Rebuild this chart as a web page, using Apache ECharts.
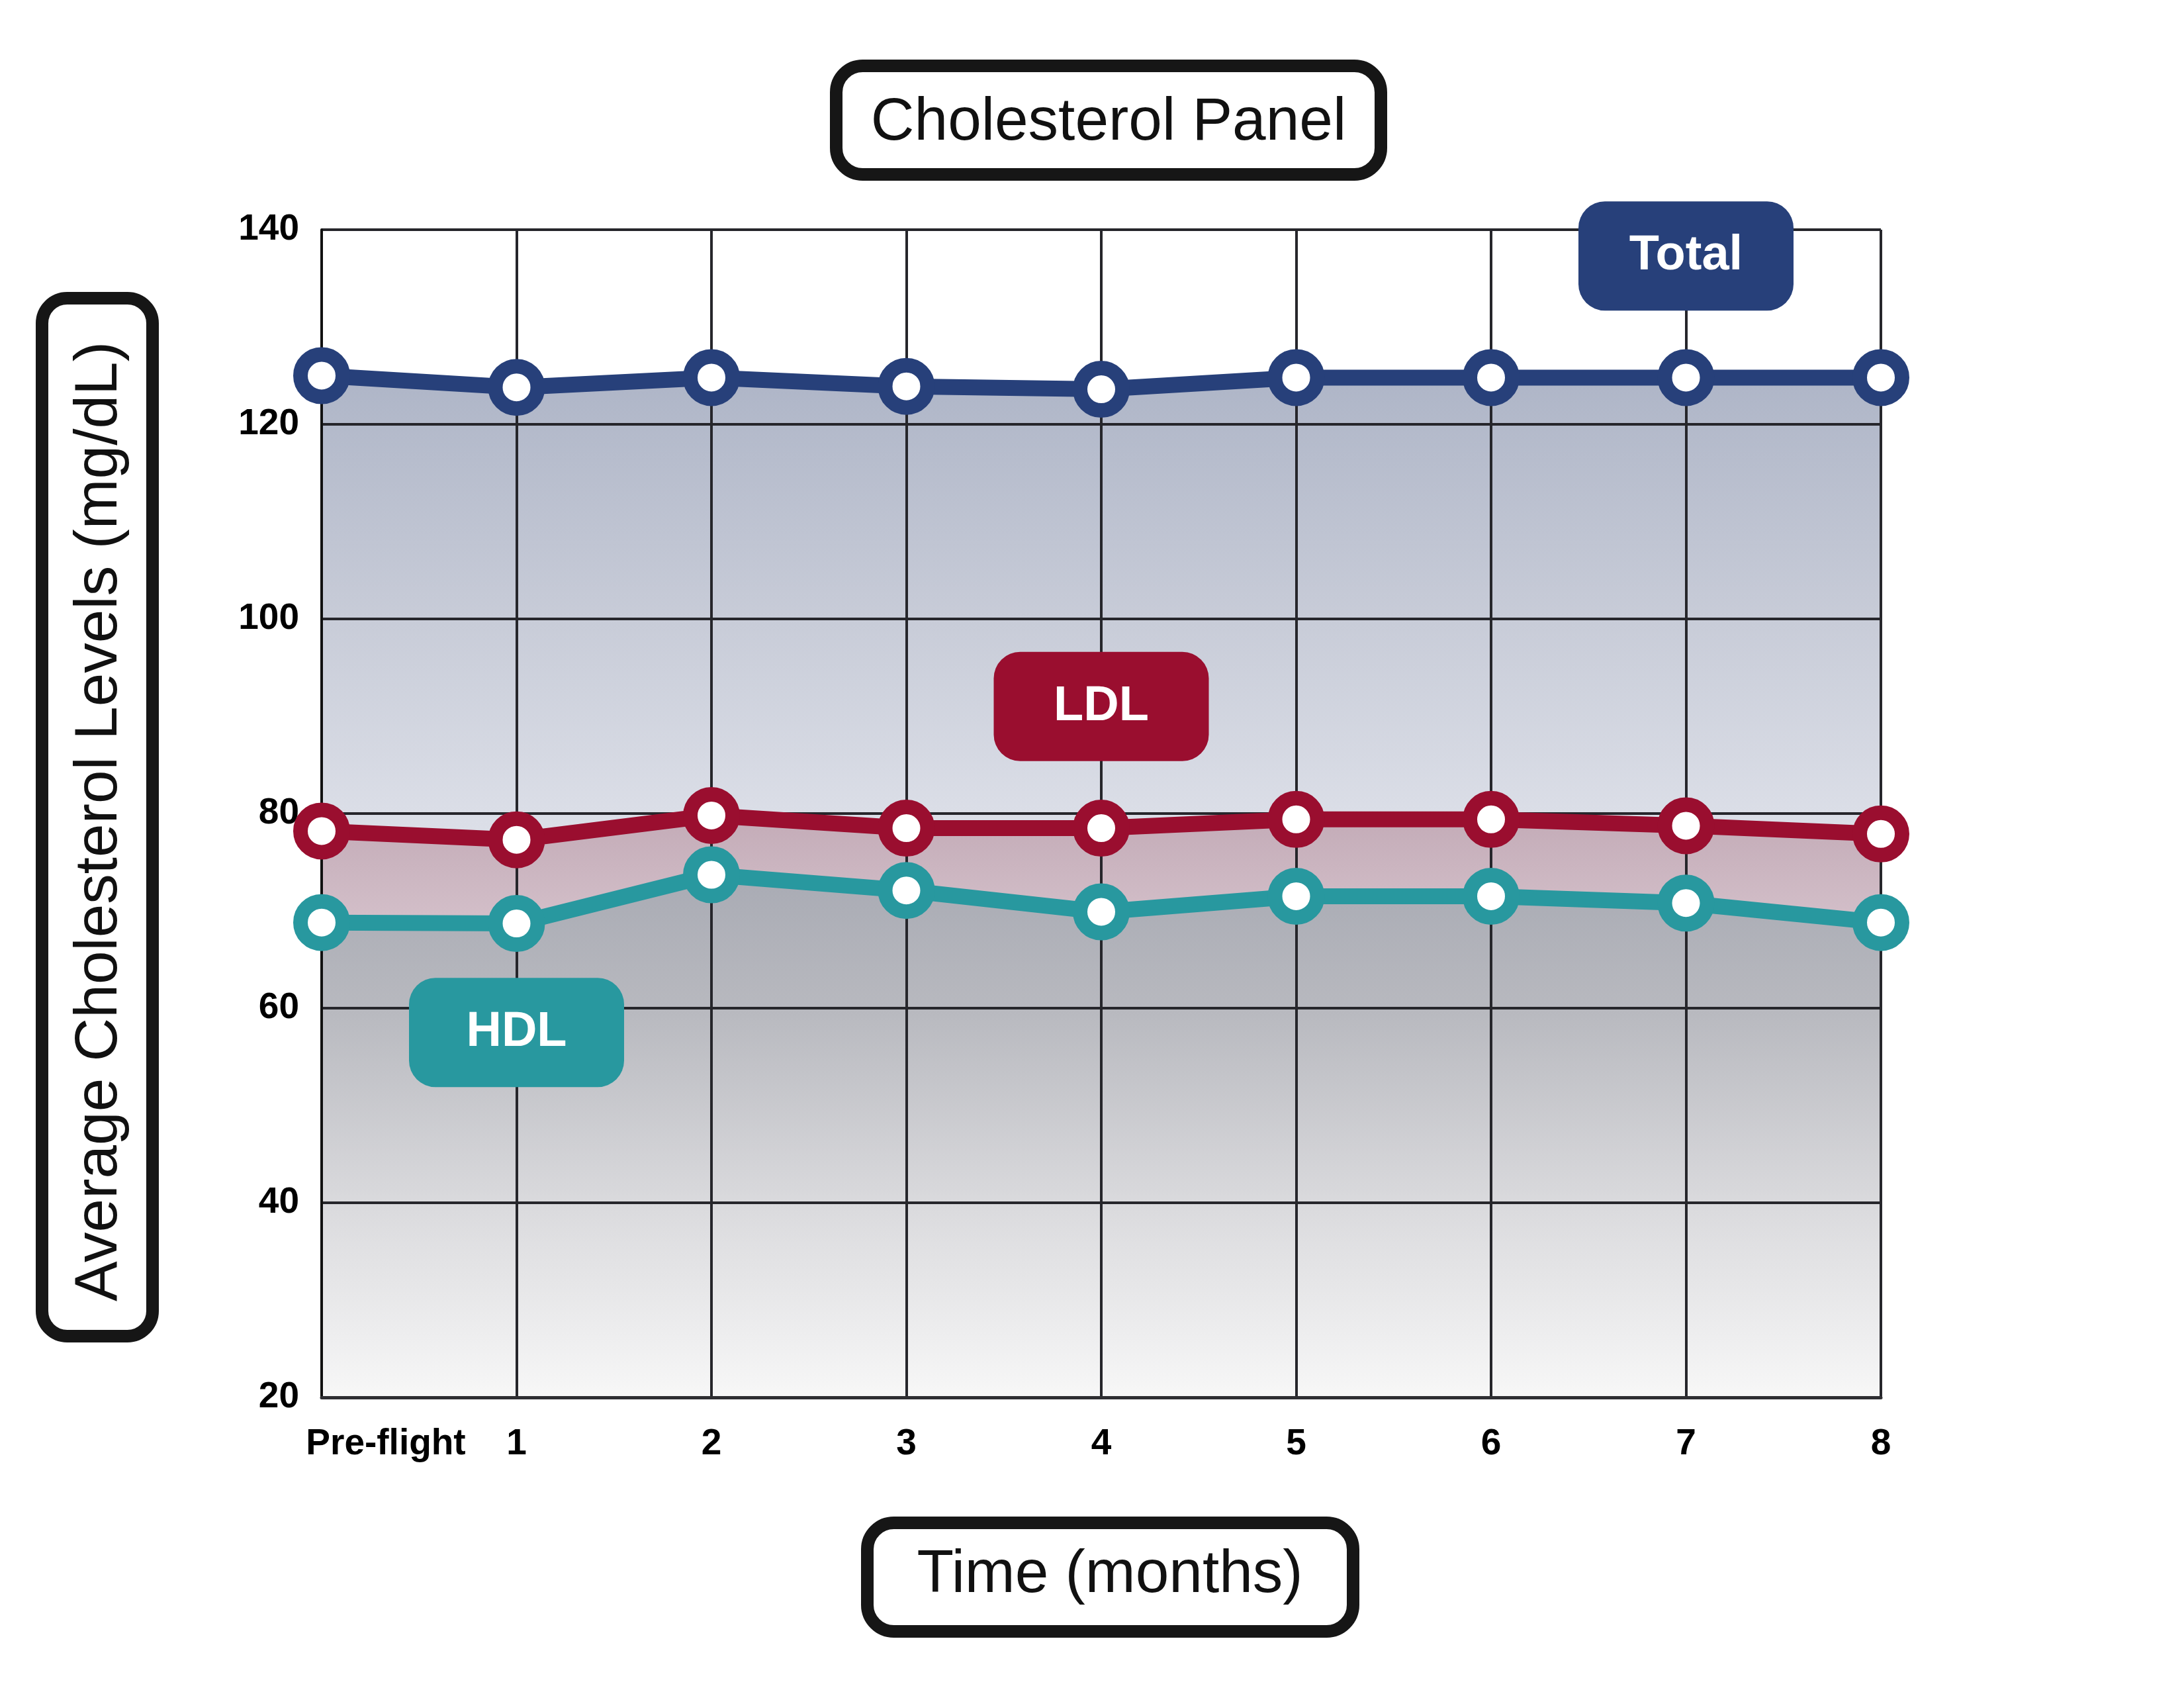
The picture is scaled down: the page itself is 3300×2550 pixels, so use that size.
<!DOCTYPE html>
<html>
<head>
<meta charset="utf-8">
<script src="https://cdn.jsdelivr.net/npm/echarts@6/dist/echarts.min.js"></script>
<style>
html,body{margin:0;padding:0;background:#fff;}
#chart{width:3300px;height:2550px;}
</style>
</head>
<body>
<div id="chart"></div>
<script>
// ---- data ----
const categories = ['Pre-flight', '1', '2', '3', '4', '5', '6', '7', '8'];
const totalValues = [125.0, 123.8, 124.8, 123.9, 123.6, 124.8, 124.8, 124.8, 124.8];
const ldlValues   = [78.2, 77.3, 79.8, 78.5, 78.5, 79.4, 79.4, 78.75, 77.9];
const hdlValues   = [68.8, 68.7, 73.7, 72.1, 69.9, 71.5, 71.5, 70.8, 68.8];
const yMin = 20, yMax = 140, yStep = 20;
const titleText = 'Cholesterol Panel';
const yName = 'Average Cholesterol Levels (mg/dL)';
const xName = 'Time (months)';

const C_TOTAL = '#27407a', C_LDL = '#9a0e2f', C_HDL = '#28989f';
const FONT = '"Liberation Sans", Arial, Helvetica, sans-serif';
const boxPath = 'path://M40 0H285A40 40 0 0 1 325 40V125A40 40 0 0 1 285 165H40A40 40 0 0 1 0 125V40A40 40 0 0 1 40 0Z';

function grad(stops) {
  return { type: 'linear', x: 0, y: 0, x2: 0, y2: 1,
    colorStops: stops.map(s => ({ offset: s[0], color: s[1] })) };
}
function areaSeries(name, data, stops) {
  return { name: name + ' area', type: 'line', data: data, z: 1, silent: true,
    symbol: 'none', lineStyle: { width: 0, opacity: 0 },
    areaStyle: { color: grad(stops), opacity: 1 }, emphasis: { disabled: true } };
}
function lineSeries(name, data, color, tag) {
  return { name: name, type: 'line', data: data, z: 4, silent: true,
    symbol: 'circle', symbolSize: 64,
    lineStyle: { width: 24, color: color },
    itemStyle: { color: '#ffffff', borderColor: color, borderWidth: 22 },
    emphasis: { disabled: true },
    markPoint: {
      silent: true, symbol: boxPath, symbolSize: [325, 165], symbolKeepAspect: false,
      itemStyle: { color: color, borderWidth: 0 },
      label: { show: true, position: 'inside', formatter: name, color: '#ffffff',
        fontSize: 74, fontWeight: 'bold', fontFamily: FONT },
      data: [{ coord: tag }]
    } };
}

const chart = echarts.init(document.getElementById('chart'), null, { renderer: 'canvas' });
chart.setOption({
  animation: false,
  backgroundColor: '#ffffff',
  grid: { left: 486, right: 458, top: 347, bottom: 439, containLabel: false },
  xAxis: {
    type: 'category', data: categories, boundaryGap: false, z: 3,
    axisLine: { show: true, lineStyle: { color: '#2e2e32', width: 5 } },
    axisTick: { show: false },
    axisLabel: {
      interval: 0,
      margin: 43, color: '#000', fontSize: 55, fontWeight: 'bold', fontFamily: FONT,
      formatter: function (v, i) { return i === 0 ? '{pre|' + v + '}' : v; },
      rich: { pre: { padding: [0, 0, 0, 194], fontSize: 55, fontWeight: 'bold', fontFamily: FONT, color: '#000' } }
    },
    splitLine: { show: true, interval: 0, lineStyle: { color: '#26262b', width: 4 } }
  },
  yAxis: {
    type: 'value', min: yMin, max: yMax, interval: yStep, z: 3,
    axisLine: { show: true, lineStyle: { color: '#111', width: 4 } },
    axisTick: { show: false },
    axisLabel: { margin: 34, color: '#000', fontSize: 55, fontWeight: 'bold', fontFamily: FONT },
    splitLine: { show: true, lineStyle: { color: '#26262b', width: 4 } }
  },
  series: [
    areaSeries('Total', totalValues, [[0, '#aeb5c7'], [0.24, '#c8ccd8'], [0.43, '#dbdee7'], [1, '#eef0f4']]),
    areaSeries('LDL', ldlValues, [[0, '#c3abb7'], [0.18, '#d3bfc9'], [1, '#eeeeee']]),
    areaSeries('HDL', hdlValues, [[0, '#a9abb4'], [0.26, '#b8b9bf'], [0.63, '#dadadd'], [1, '#f7f7f7']]),
    lineSeries('Total', totalValues, C_TOTAL, ['7', 137.3]),
    lineSeries('LDL', ldlValues, C_LDL, ['4', 91]),
    lineSeries('HDL', hdlValues, C_HDL, ['1', 57.5])
  ],
  graphic: [
    { type: 'rect', shape: { x: 1263.5, y: 99.5, width: 823, height: 164, r: 40 },
      style: { fill: '#fff', stroke: '#161616', lineWidth: 19 }, silent: true },
    { type: 'text', x: 1675, y: 186, silent: true,
      style: { text: titleText, fontSize: 91, fontFamily: FONT, fill: '#111', align: 'center', verticalAlign: 'middle' } },
    { type: 'rect', shape: { x: 63.5, y: 450.5, width: 167, height: 1568, r: 38 },
      style: { fill: '#fff', stroke: '#161616', lineWidth: 19 }, silent: true },
    { type: 'text', x: 151, y: 1241, rotation: Math.PI / 2, silent: true,
      style: { text: yName, fontSize: 91, fontFamily: FONT, fill: '#111', align: 'center', verticalAlign: 'middle' } },
    { type: 'rect', shape: { x: 1310.5, y: 2300.5, width: 734, height: 164, r: 40 },
      style: { fill: '#fff', stroke: '#161616', lineWidth: 19 }, silent: true },
    { type: 'text', x: 1677, y: 2380, silent: true,
      style: { text: xName, fontSize: 91, fontFamily: FONT, fill: '#111', align: 'center', verticalAlign: 'middle' } }
  ]
});
</script>
</body>
</html>
